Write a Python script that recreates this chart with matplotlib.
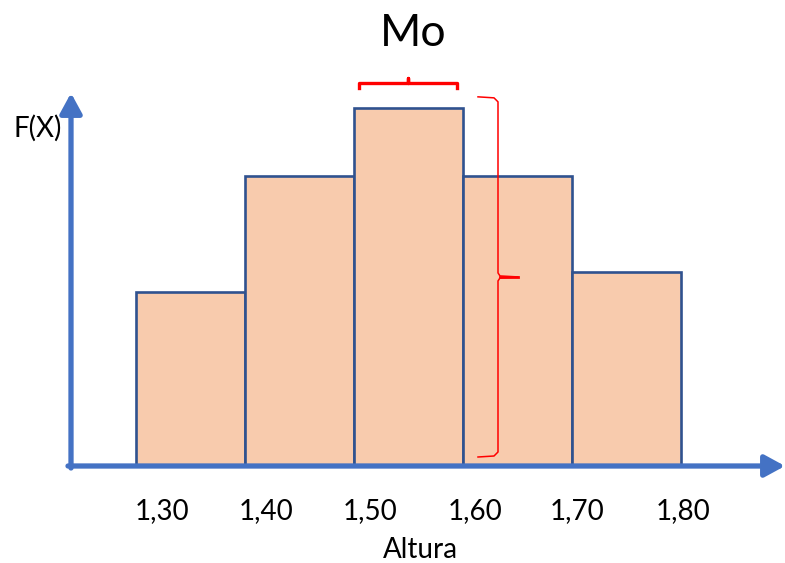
import numpy as np
import matplotlib
matplotlib.use('Agg')
import matplotlib.pyplot as plt

# histogram data
bin_edges = [1.25, 1.35, 1.45, 1.55, 1.65, 1.75]
freq = [6.0, 10.0, 12.35, 10.0, 6.7]
tick_pos = [1.274, 1.369, 1.465, 1.561, 1.655, 1.752]
tick_labels = ['1,30', '1,40', '1,50', '1,60', '1,70', '1,80']
modal = 2  # index of the modal class

plt.rcParams['font.family'] = ['Lato', 'DejaVu Sans']

W, H = 785, 563
fig = plt.figure(figsize=(W / 100, H / 100), dpi=100)
# axes: full width, bottom at the baseline
ax = fig.add_axes([0, (H - 466) / H, 1, 406 / H])
ax.set_xlim(1.25 - 136 / 1090, 1.25 + 649 / 1090)
ax.set_ylim(0, 406 / 29)

widths = np.diff(bin_edges)
ax.bar(bin_edges[:-1], freq, width=widths, align='edge',
       color='#F8CBAD', edgecolor='#2F528F', linewidth=1.9, zorder=2)

for s in ax.spines.values():
    s.set_visible(False)
ax.set_yticks([])
ax.set_xticks(tick_pos)
ax.set_xticklabels(tick_labels, fontsize=20)
ax.tick_params(axis='x', length=0, pad=23)
ax.set_xlabel('Altura', fontsize=20, labelpad=12)
ax.xaxis.set_label_coords(420 / W, -84 / 406)
ax.xaxis.label.set_va('center')
ax.set_ylabel('F(X)', fontsize=20, rotation=0, ha='center', va='center')
ax.yaxis.set_label_coords(38 / W, (466 - 128) / 406)
ax.set_title('Mo', fontsize=32, x=413 / W, y=1.0, pad=10)

# axis arrows
px = 1 / 1090  # one pixel in x data units
py = 1 / 29    # one pixel in y data units
blue = '#4472C4'
x_axis0 = 1.25 - 68 * px
arrow = dict(arrowstyle='-|>,head_length=0.55,head_width=0.3', color=blue,
             lw=3.8, mutation_scale=22, shrinkA=0, shrinkB=0)
ax.annotate('', xy=(1.25 + 649 * px, 0), xytext=(x_axis0, 0),
            arrowprops=arrow, annotation_clip=False, zorder=4)
ax.annotate('', xy=(1.25 - 65 * px, 373 * py), xytext=(1.25 - 65 * px, -2 * py),
            arrowprops=arrow, annotation_clip=False, zorder=4)

# brace over the modal class
l, r = bin_edges[modal] + 5 * px, bin_edges[modal + 1] - 6 * px
top = freq[modal]
yb = top + 25 * py
c = (l + r) / 2
ax.plot([l, l, c, c, c, r, r],
        [yb - 5 * py, yb, yb, yb + 5 * py, yb, yb, yb - 5 * py],
        color='#FF0000', lw=2.4, solid_joinstyle='round', clip_on=False, zorder=5)

# brace along the modal height
xb = bin_edges[modal + 1] + 35 * px
yt, ybt = top + 11 * py, 9 * py
ym = (yt + ybt) / 2
ax.plot([xb - 20 * px, xb - 4 * px, xb, xb, xb + 2 * px, xb + 20 * px,
         xb + 2 * px, xb, xb, xb - 4 * px, xb - 20 * px],
        [yt, yt - 1 * py, yt - 5 * py, ym + 4 * py, ym + 1 * py, ym,
         ym - 1 * py, ym - 4 * py, ybt + 5 * py, ybt + 1 * py, ybt],
        color='#FF0000', lw=1.1, clip_on=False, zorder=5)
ax.plot([xb + 2 * px, xb + 20 * px], [ym, ym], color='#FF0000', lw=2, zorder=5)

fig.savefig('out.png', dpi=100)
